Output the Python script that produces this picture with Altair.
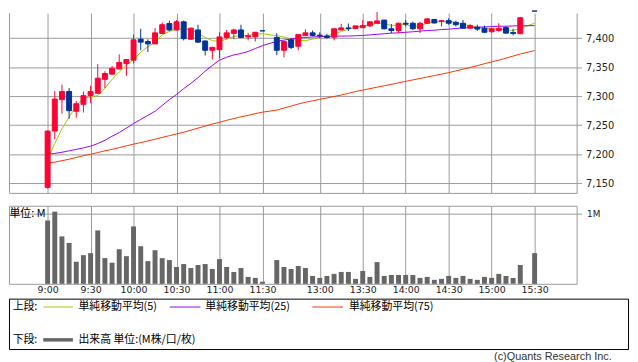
import altair as alt
import pandas as pd

# ---------------- data ----------------
times = ["9:00","9:05","9:10","9:15","9:20","9:25","9:30","9:35","9:40","9:45","9:50","9:55",
         "10:00","10:05","10:10","10:15","10:20","10:25","10:30","10:35","10:40","10:45","10:50","10:55",
         "11:00","11:05","11:10","11:15","11:20","11:25","11:30",
         "12:30","12:35","12:40","12:45","12:50","12:55",
         "13:00","13:05","13:10","13:15","13:20","13:25","13:30","13:35","13:40","13:45","13:50","13:55",
         "14:00","14:05","14:10","14:15","14:20","14:25","14:30","14:35","14:40","14:45","14:50","14:55",
         "15:00","15:05","15:10","15:15","15:20","15:30"]

opens = [7143, 7240, 7294, 7308, 7274, 7286, 7301, 7305, 7329, 7338, 7347, 7356, 7362, 7398, 7394, 7390,
         7408, 7425, 7414, 7428, 7398, 7414, 7395, 7379, 7380, 7401, 7408, 7414, 7402, 7402, 7412.5,
         7401, 7379, 7397, 7386, 7404.5, 7409, 7405, 7403.5, 7401.5, 7414, 7417.5, 7416.5, 7418, 7421,
         7425.5, 7431, 7416, 7413, 7425.5, 7425.5, 7416, 7425.5, 7432, 7428.5, 7430, 7427, 7425.5, 7417,
         7418.5, 7417, 7411, 7413, 7418, 7409.5, 7407.5, 7446.5]
highs = [7241, 7309, 7320, 7314, 7292, 7308, 7318, 7355, 7343, 7352, 7372, 7363, 7406, 7416, 7398, 7417,
         7427, 7430, 7431, 7430, 7418, 7423, 7396, 7385, 7410, 7414, 7416, 7423, 7409, 7410, 7412.5,
         7408.5, 7394, 7400, 7406, 7415, 7413, 7410, 7407.5, 7416, 7424.5, 7425, 7421, 7431, 7428,
         7445, 7431, 7424, 7426.5, 7431, 7428, 7428, 7434, 7432, 7431, 7434, 7430, 7431, 7424,
         7423, 7421.5, 7417, 7425.5, 7420, 7416, 7436.5, 7446.5]
lows = [7141, 7226, 7270, 7261, 7263, 7272, 7288, 7305, 7314, 7337, 7346, 7335, 7356, 7379, 7376, 7390,
        7407, 7412, 7413, 7396, 7397, 7392, 7370, 7363, 7365, 7398, 7398, 7401, 7396, 7394, 7412.5,
        7370.5, 7367, 7381, 7379, 7403, 7403, 7400, 7399, 7396, 7413, 7412, 7415, 7417, 7419,
        7425, 7415, 7408.5, 7408.5, 7420, 7414, 7408.5, 7424, 7425, 7420, 7423, 7420, 7417, 7416,
        7412.5, 7408.5, 7408.5, 7411, 7408, 7404.5, 7407, 7446.5]
closes = [7240, 7295, 7308, 7275, 7287, 7301, 7308, 7331, 7339, 7348, 7358, 7363, 7397, 7393, 7390, 7409,
          7423, 7414, 7428, 7399, 7417, 7393, 7379, 7384, 7402, 7409, 7414, 7401, 7404, 7410, 7412.5,
          7379, 7394, 7384, 7406, 7409, 7404.5, 7404, 7401, 7416, 7417.5, 7416.5, 7421, 7421.5, 7428,
          7429.5, 7416, 7413, 7425.5, 7424, 7416, 7425.5, 7433, 7426, 7430, 7425.5, 7423, 7417, 7421.5,
          7415.5, 7410, 7416, 7417, 7408.5, 7408, 7435, 7446.5]
volumes_m = [0.906, 1.033, 0.679, 0.585, 0.316, 0.41, 0.439, 0.764, 0.368, 0.302, 0.495, 0.396, 0.821,
             0.538, 0.325, 0.481, 0.368, 0.34, 0.241, 0.283, 0.226, 0.269, 0.283, 0.212, 0.354, 0.241,
             0.17, 0.226, 0.099, 0.085, 0.028,
             0.34, 0.241, 0.212, 0.255, 0.226, 0.113, 0.085, 0.113, 0.142, 0.17, 0.17, 0.071, 0.184,
             0.099, 0.311, 0.113, 0.127, 0.127, 0.127, 0.127, 0.085, 0.099, 0.057, 0.071, 0.113, 0.085,
             0.113, 0.071, 0.057, 0.099, 0.085, 0.142, 0.113, 0.085, 0.269, 0.439]
ma5 = [7191.4, 7218.6, 7244, 7264, 7283.8, 7296, 7299, 7300.8, 7313.8, 7329, 7341.6, 7353.5, 7363,
       7375.6, 7385, 7393, 7405.7, 7411.3, 7415.3, 7415.9, 7414.2, 7408.5, 7401.1, 7395.5, 7394.3,
       7398.3, 7402.8, 7404, 7404.5, 7406.8, 7407.4,
       7404, 7401.7, 7398.3, 7396, 7395.5, 7398.3, 7401.7, 7404, 7407.4, 7411.3, 7415.3, 7418.7, 7421,
       7422.7, 7425.5, 7424.4, 7422, 7422, 7423.8, 7419.8, 7421.5, 7425.5, 7427.2, 7428.3, 7428.3,
       7427.2, 7423.8, 7421.5, 7418.7, 7417, 7415.9, 7415.9, 7414.2, 7413, 7417, 7425.5]
ma25 = [7200, 7201.5, 7203.5, 7206, 7208.5, 7211, 7214, 7218.5, 7224, 7231, 7237.5, 7245, 7253, 7260,
        7267, 7274, 7284, 7294, 7303, 7313, 7322, 7332, 7343, 7353, 7362, 7367, 7371, 7373.5, 7377,
        7382, 7387,
        7394.5, 7396.5, 7398.5, 7400, 7401, 7402, 7402.5, 7403, 7403, 7403.5, 7403.5, 7404, 7404.5,
        7405.5, 7406.5, 7407.5, 7408.5, 7409, 7410, 7410.8, 7412, 7413, 7413.6, 7414.7, 7415.3, 7416.5,
        7417.5, 7418.1, 7418.7, 7419.2, 7419.8, 7420.4, 7420.4, 7421, 7421, 7421.5]
ma75 = [7184.6, 7186.5, 7189, 7191.5, 7194.5, 7197.5, 7200, 7203, 7206, 7208.5, 7211.5, 7214.5, 7217.5,
        7220, 7223, 7226, 7229, 7232, 7235, 7238, 7241.5, 7245, 7248.5, 7252, 7255, 7258.5, 7261.5,
        7264.5, 7267, 7270, 7272.5,
        7276, 7279.5, 7283, 7286.5, 7289.5, 7292, 7294.5, 7297, 7299.5, 7302, 7305, 7308, 7310.5, 7313,
        7315.5, 7318, 7320.5, 7323, 7325.5, 7328, 7330.5, 7333, 7335.5, 7338, 7340.5, 7343.5, 7346.5,
        7349.5, 7352.5, 7356, 7359, 7362, 7365.5, 7369, 7372.5, 7378.5]

tick_times = ["9:00", "9:30", "10:00", "10:30", "11:00", "11:30",
              "13:00", "13:30", "14:00", "14:30", "15:00", "15:30"]
price_ticks = [7150, 7200, 7250, 7300, 7350, 7400]
volume_ticks = [1]

ma_names = ["MA5", "MA25", "MA75"]
ma_labels = ["単純移動平均(5)", "単純移動平均(25)", "単純移動平均(75)"]
legend_prefix = ["上段:", "下段:"]
volume_label = "出来高 単位:(M株/口/枚)"
unit_label = "単位: M"
copyright_text = "(c)Quants Research Inc."

# ---------------- styles ----------------
RED = "#ff0033"
BLUE = "#003399"
MA_COLORS = ["#99cc00", "#9900ff", "#ff3300"]
GRID = "#999999"
VOL = "#666666"
NUM_FONT = "DejaVu Sans"
JP_FONT = "Noto Sans CJK JP"


def slot_of(t):
    h, m = map(int, t.split(":"))
    mins = h * 60 + m
    if mins <= 690:
        return (mins - 540) // 5
    return (mins - 750) // 5 + 32


slots = [slot_of(t) for t in times]
tick_slots = [slot_of(t) for t in tick_times]

candles = pd.DataFrame({"time": times, "slot": slots, "open": opens, "high": highs,
                        "low": lows, "close": closes, "volume": volumes_m})
candles["dir"] = ["up" if c > o else "down" for o, c in zip(opens, closes)]

ma_df = pd.concat([pd.DataFrame({"slot": slots, "value": vals, "series": name})
                   for name, vals in zip(ma_names, [ma5, ma25, ma75])])

one = pd.DataFrame({"k": [0]})

W = 574.5
H_UP = 182
H_VOL = 79
xs = alt.Scale(domain=[-4.704, 73.18], nice=False, zero=False)
ys = alt.Scale(domain=[7133.5, 7443], nice=False, zero=False)

label_expr = "[" + ",".join("'%s'" % t for t in tick_times) + "][indexof([" + \
    ",".join(str(s) for s in tick_slots) + "], datum.value)]"

x_axis_up = alt.Axis(values=tick_slots, grid=True, gridColor=GRID, gridOpacity=1, labels=False,
                     ticks=False, domain=True, domainColor=GRID, title=None)
y_axis_up = alt.Axis(orient="right", values=price_ticks, labelExpr="format(datum.value, ',')",
                     grid=True, gridColor=GRID,
                     gridOpacity=1, tickColor=GRID, tickSize=5, domain=True, domainColor=GRID,
                     labelFont=NUM_FONT, labelFontSize=10, labelColor="#222222", labelPadding=4,
                     title=None)

X_UP = dict(scale=xs, axis=x_axis_up)
Y_UP = dict(scale=ys, axis=y_axis_up)

# ---------------- upper panel ----------------
layers = []
base_ma = alt.Chart(ma_df)
for name, col in zip(ma_names, MA_COLORS):
    layers.append(base_ma.transform_filter(alt.datum.series == name)
                  .mark_line(color=col, strokeWidth=1)
                  .encode(x=alt.X("slot:Q", **X_UP), y=alt.Y("value:Q", **Y_UP)))

base_c = alt.Chart(candles)
for d, col in [("up", RED), ("down", BLUE)]:
    sub = base_c.transform_filter(alt.datum.dir == d)
    layers.append(sub.mark_rule(color=col, strokeWidth=1).encode(
        x=alt.X("slot:Q", **X_UP), y=alt.Y("low:Q", **Y_UP), y2="high:Q"))
    layers.append(sub.mark_bar(size=5, color=col, stroke=col, strokeWidth=1).encode(
        x=alt.X("slot:Q", **X_UP), y=alt.Y("open:Q", **Y_UP), y2="close:Q"))

layers.append(alt.Chart(one).mark_rule(color=GRID, strokeWidth=1).encode(
    x=alt.value(0.5), y=alt.value(0), y2=alt.value(H_UP)))

upper = alt.layer(*layers).properties(width=W, height=H_UP)

# ---------------- volume panel ----------------
x_axis_vol = alt.Axis(values=tick_slots, labelExpr=label_expr, grid=True, gridColor=GRID,
                      gridOpacity=1, ticks=False, domain=False, labelFont=NUM_FONT,
                      labelFontSize=9.5, labelColor="#222222", labelPadding=1, title=None,
                      labelOverlap=False, labelFlush=False)
y_axis_vol = alt.Axis(orient="right", values=volume_ticks, labelExpr="datum.value + 'M'",
                      grid=True, gridColor=GRID, gridOpacity=1, tickColor=GRID, tickSize=5,
                      domain=False, labelFont=NUM_FONT, labelFontSize=9, labelColor="#222222",
                      labelPadding=5, title=None)

vol_bars = alt.Chart(candles).mark_bar(color=VOL, size=5).encode(
    x=alt.X("slot:Q", scale=xs, axis=x_axis_vol),
    y=alt.Y("volume:Q", scale=alt.Scale(domain=[0, 1.117], nice=False), axis=y_axis_vol))


def txt(text, x, y, font=JP_FONT, size=11, align="left", baseline="middle", color="#000000"):
    return alt.Chart(one).mark_text(text=text, font=font, fontSize=size, align=align,
                                    baseline=baseline, color=color).encode(
        x=alt.value(x), y=alt.value(y))


def hline(x1, x2, y, color, width):
    return alt.Chart(one).mark_rule(color=color, strokeWidth=width).encode(
        x=alt.value(x1), x2=alt.value(x2), y=alt.value(y))


deco = [
    txt(unit_label, 0.5, 8.3),
    alt.Chart(one).mark_rect(fillOpacity=0, stroke="#000000", strokeWidth=1).encode(
        x=alt.value(0.5), x2=alt.value(627), y=alt.value(94.5), y2=alt.value(145.5)),
    txt(legend_prefix[0], 3.7, 102.3),
    hline(34.7, 64.7, 102.5, MA_COLORS[0], 1),
    txt(ma_labels[0], 70.3, 102.3),
    hline(162.7, 193.7, 102.5, MA_COLORS[1], 1),
    txt(ma_labels[1], 198.7, 102.3),
    hline(307, 338, 102.5, MA_COLORS[2], 1),
    txt(ma_labels[2], 344, 102.3),
    txt(legend_prefix[1], 3.7, 135.7),
    hline(34.7, 64.7, 135.7, VOL, 3.5),
    txt(volume_label, 70.3, 135.7),
    txt(copyright_text, 610, 156.5, font="Liberation Sans", size=11, align="right",
        baseline="alphabetic", color="#333333"),
]

volume = alt.layer(vol_bars, *deco).properties(
    width=W, height=H_VOL, view=alt.ViewBackground(stroke=GRID, strokeWidth=1))

chart = alt.vconcat(upper, volume, spacing=11).properties(
    padding={"left": 0, "top": 0, "right": 0, "bottom": 0}, background="white"
).configure_view(strokeWidth=0)

chart.save("out.html", embed_options={"renderer": "svg", "actions": False})
